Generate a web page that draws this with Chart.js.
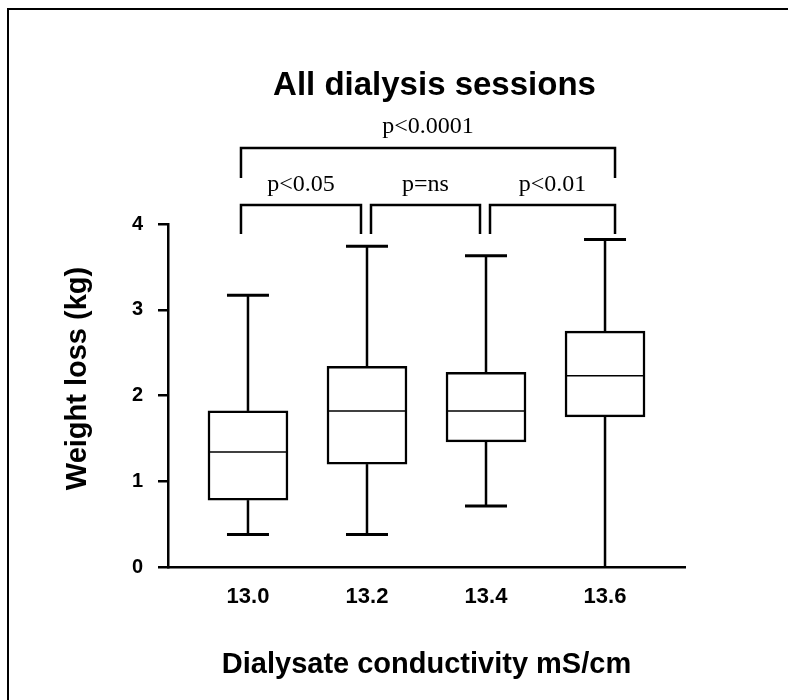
<!DOCTYPE html>
<html>
<head>
<meta charset="utf-8">
<script src="https://cdn.jsdelivr.net/npm/chart.js@4.4.0/dist/chart.umd.min.js"></script>
<style>
  html, body { margin: 0; padding: 0; background: #fff; overflow: hidden; }
  #frame { position: absolute; left: 7px; top: 8px; width: 900px; height: 900px; border: 2px solid #000; }
  #wrap { position: absolute; left: 0; top: 0; width: 788px; height: 700px; }
</style>
</head>
<body>
<div id="frame"></div>
<div id="wrap"><canvas id="boxChart" width="788" height="700"></canvas></div>
<script>
// box plot values (kg), one per conductivity group
const conductivity = ["13.0", "13.2", "13.4", "13.6"];
const whiskerMin = [0.38, 0.38, 0.71, 0.0];
const quartile1 = [0.78, 1.2, 1.46, 1.75];
const medians = [1.34, 1.82, 1.82, 2.23];
const quartile3 = [1.82, 2.34, 2.27, 2.75];
const whiskerMax = [3.17, 3.74, 3.63, 3.82];
const yTicks = [0, 1, 2, 3, 4];

// significance brackets
const compareFrom = [0, 1, 2, 0];
const compareTo = [1, 2, 3, 3];
const compareLabels = ["p<0.05", "p=ns", "p<0.01", "p<0.0001"];

function strokeLine(ctx, x1, y1, x2, y2) {
  ctx.beginPath();
  ctx.moveTo(x1, y1);
  ctx.lineTo(x2, y2);
  ctx.stroke();
}

const boxExtras = {
  id: "boxExtras",
  afterDatasetsDraw(chart) {
    const { ctx, chartArea, scales: { x, y } } = chart;
    ctx.save();
    ctx.strokeStyle = "#000";
    ctx.fillStyle = "#000";

    conductivity.forEach((c, i) => {
      const cx = x.getPixelForValue(i);
      const yMin = y.getPixelForValue(whiskerMin[i]);
      const yMax = y.getPixelForValue(whiskerMax[i]);
      ctx.lineWidth = 2.5;
      strokeLine(ctx, cx, y.getPixelForValue(quartile3[i]), cx, yMax);
      strokeLine(ctx, cx, y.getPixelForValue(quartile1[i]), cx, yMin);
      ctx.lineWidth = 3;
      strokeLine(ctx, cx - 21, yMax, cx + 21, yMax);
      if (whiskerMin[i] > 0) strokeLine(ctx, cx - 21, yMin, cx + 21, yMin);
      ctx.lineWidth = 1.5;
      const yMed = y.getPixelForValue(medians[i]);
      strokeLine(ctx, cx - 39, yMed, cx + 39, yMed);
    });

    // brackets above the plot
    const top = y.getPixelForValue(yTicks[yTicks.length - 1]);
    const last = conductivity.length - 1;
    ctx.textAlign = "center";
    ctx.textBaseline = "middle";
    ctx.font = '24px "Liberation Serif"';
    compareFrom.forEach((f, k) => {
      const t = compareTo[k];
      const wide = t - f > 1;
      const x1 = x.getPixelForValue(f) + (f === 0 ? -7 : 4);
      const x2 = x.getPixelForValue(t) + (t === last ? 10 : -6);
      const yTop = wide ? top - 76 : top - 19;
      const yLeg = wide ? top - 46 : top + 10;
      ctx.lineWidth = 2.5;
      ctx.beginPath();
      ctx.moveTo(x1, yLeg);
      ctx.lineTo(x1, yTop);
      ctx.lineTo(x2, yTop);
      ctx.lineTo(x2, yLeg);
      ctx.stroke();
      ctx.fillText(compareLabels[k], (x1 + x2) / 2, wide ? top - 97 : top - 39);
    });

    ctx.font = 'bold 33px "Liberation Sans"';
    ctx.fillText("All dialysis sessions", (chartArea.left + chartArea.right) / 2 + 8, 86);

    // y axis title, a little above the plot centre as in the original
    ctx.translate(78, (chartArea.top + chartArea.bottom) / 2 - 17);
    ctx.rotate(-Math.PI / 2);
    ctx.font = 'bold 29px "Liberation Sans"';
    ctx.fillText("Weight loss (kg)", 0, 0);
    ctx.restore();
  }
};

new Chart(document.getElementById("boxChart"), {
  type: "bar",
  data: {
    datasets: [{
      data: conductivity.map((c, i) => ({ x: i, y: [quartile1[i], quartile3[i]] })),
      backgroundColor: "#fff",
      borderColor: "#000",
      borderWidth: 2.5,
      borderSkipped: false,
      barThickness: 80
    }]
  },
  options: {
    responsive: false,
    animation: false,
    layout: { padding: { top: 224, right: 103, bottom: 0, left: 0 } },
    plugins: {
      legend: { display: false },
      tooltip: { enabled: false }
    },
    scales: {
      x: {
        type: "linear",
        offset: false,
        min: -0.672,
        max: 3.672,
        afterBuildTicks: (s) => { s.ticks = conductivity.map((c, i) => ({ value: i })); },
        afterFit: (s) => { s.height = 133; },
        ticks: {
          callback: (v) => conductivity[v],
          font: { family: "Liberation Sans", size: 22, weight: "bold" },
          color: "#000",
          padding: 17,
          autoSkip: false,
          maxRotation: 0
        },
        grid: { display: false, drawTicks: false },
        border: { display: true, color: "#000", width: 2.5 },
        title: {
          display: true,
          text: "Dialysate conductivity mS/cm",
          font: { family: "Liberation Sans", size: 29, weight: "bold" },
          color: "#000",
          padding: { top: 0, bottom: 18 }
        }
      },
      y: {
        min: 0,
        max: 4,
        afterBuildTicks: (s) => { s.ticks = yTicks.map((v) => ({ value: v })); },
        afterFit: (s) => { s.width = 168; },
        ticks: {
          font: { family: "Liberation Sans", size: 20, weight: "bold" },
          color: "#000",
          padding: 15
        },
        grid: { drawOnChartArea: false, tickLength: 10, color: "#000", lineWidth: 2.5 },
        border: { display: true, color: "#000", width: 2.5 }
      }
    }
  },
  plugins: [boxExtras]
});
</script>
</body>
</html>
